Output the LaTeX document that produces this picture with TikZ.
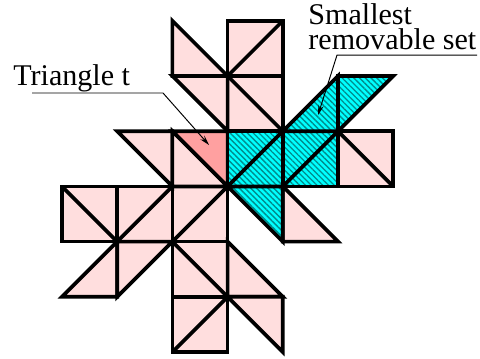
\documentclass[tikz,border=0pt]{standalone}
\usepackage{fontspec}
\setmainfont{Liberation Serif}
\usepackage{xcolor}
\usetikzlibrary{arrows.meta, patterns.meta}
\definecolor{cpink}{RGB}{255,222,222}
\definecolor{csalmon}{RGB}{255,160,160}
\definecolor{ccyan}{RGB}{0,255,255}
\definecolor{chatch}{RGB}{0,140,140}

\begin{document}
\begin{tikzpicture}[
    tile/.style={draw=black, line width=1.9pt, fill=cpink},
    picked/.style={draw=black, line width=1.9pt, fill=csalmon},
    removable/.style={draw=black, line width=1.9pt, preaction={fill=ccyan},
        pattern={Lines[angle=-45, distance=2.1pt, line width=0.7pt]}, pattern color=chatch},
    edge/.style={line width=1.9pt},
    lbl/.style={font=\rmfamily\fontsize{15.5pt}{12.4pt}\selectfont, inner sep=0pt},
    leader/.style={line width=0.5pt, -{Stealth[length=1.8mm, width=1mm]}},
]
    \useasboundingbox (-1.123,-0.109) rectangle (7.572,6.377);

    % Pink squares, diagonal bottom-left to top-right
    \foreach \a/\b in {3/5, 1/2, 2/2, 2/0} {
        \draw[tile] (\a,\b) rectangle ++(1,1);
        \draw[edge] (\a,\b) -- ++(1,1);
    }
    % Pink squares, diagonal top-left to bottom-right
    \foreach \a/\b in {3/4, 0/2, 2/1, 5/3} {
        \draw[tile] (\a,\b) rectangle ++(1,1);
        \draw[edge] (\a,\b+1) -- ++(1,-1);
    }
    % Pink triangles
    \foreach \a/\b/\c/\d/\e/\f in {2/6/2/5/3/5, 2/5/3/5/3/4, 1/4/2/4/2/3,
        2/4/2/3/3/3, 0/1/1/1/1/2, 1/2/2/2/1/1, 3/2/3/1/4/1, 3/1/4/1/4/0,
        4/3/4/2/5/2} {
        \draw[tile] (\a,\b) -- (\c,\d) -- (\e,\f) -- cycle;
    }

    % Triangle t
    \draw[picked] (2,4) -- (3,4) -- (3,3) -- cycle;

    % Smallest removable set
    \foreach \a in {3, 4} {
        \draw[removable] (\a,3) rectangle ++(1,1);
        \draw[edge] (\a,3) -- ++(1,1);
    }
    \draw[removable] (4,4) -- (5,5) -- (5,4) -- cycle;
    \draw[removable] (5,5) -- (6,5) -- (5,4) -- cycle;
    \draw[removable] (3,3) -- (4,3) -- (4,2) -- cycle;

    % Labels
    \node[lbl, anchor=base west] (tlabel) at (-0.888,4.819) {Triangle t};
    \node[lbl, anchor=base west, align=left] (slabel) at (4.457,5.489) {Smallest\\removable set};

    \coordinate (tstart) at (-0.543,4.692);
    \coordinate (tbend) at (1.83,4.692);
    \coordinate (ttip) at (2.663,3.75);
    \draw[leader] (tstart) -- (tbend) -- (ttip);

    \coordinate (send) at (7.518,5.380);
    \coordinate (sbend) at (4.982,5.380);
    \coordinate (stip) at (4.638,4.293);
    \draw[leader] (send) -- (sbend) -- (stip);
\end{tikzpicture}
\end{document}
